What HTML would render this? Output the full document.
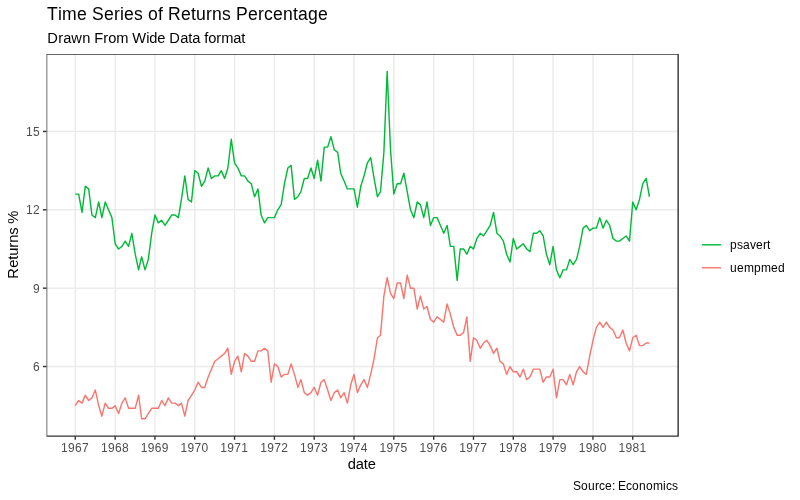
<!DOCTYPE html>
<html><head><meta charset="utf-8"><title>Time Series of Returns Percentage</title>
<style>
html,body{margin:0;padding:0;background:#fff;}
svg{display:block;font-family:"Liberation Sans",sans-serif;}
</style></head><body>
<svg width="800" height="500" viewBox="0 0 800 500">
<rect x="0" y="0" width="800" height="500" fill="#ffffff"/>
<rect x="46.55" y="54.0" width="631.6" height="382.15" fill="#ffffff"/>
<g stroke="#ebebeb" stroke-width="1.42" fill="none">
<line x1="46.55" x2="678.15" y1="366.54" y2="366.54"/>
<line x1="46.55" x2="678.15" y1="288.17" y2="288.17"/>
<line x1="46.55" x2="678.15" y1="209.81" y2="209.81"/>
<line x1="46.55" x2="678.15" y1="131.45" y2="131.45"/>
<line x1="75.26" x2="75.26" y1="54.00" y2="436.15"/>
<line x1="115.16" x2="115.16" y1="54.00" y2="436.15"/>
<line x1="154.95" x2="154.95" y1="54.00" y2="436.15"/>
<line x1="194.74" x2="194.74" y1="54.00" y2="436.15"/>
<line x1="234.53" x2="234.53" y1="54.00" y2="436.15"/>
<line x1="274.43" x2="274.43" y1="54.00" y2="436.15"/>
<line x1="314.22" x2="314.22" y1="54.00" y2="436.15"/>
<line x1="354.01" x2="354.01" y1="54.00" y2="436.15"/>
<line x1="393.80" x2="393.80" y1="54.00" y2="436.15"/>
<line x1="433.70" x2="433.70" y1="54.00" y2="436.15"/>
<line x1="473.49" x2="473.49" y1="54.00" y2="436.15"/>
<line x1="513.28" x2="513.28" y1="54.00" y2="436.15"/>
<line x1="553.07" x2="553.07" y1="54.00" y2="436.15"/>
<line x1="592.97" x2="592.97" y1="54.00" y2="436.15"/>
<line x1="632.76" x2="632.76" y1="54.00" y2="436.15"/>
</g>
<path d="M75.26,194.14 L78.64,194.14 L82.02,212.42 L85.29,186.30 L88.67,188.91 L91.94,215.04 L95.32,217.65 L98.70,201.98 L101.86,217.65 L105.24,201.98 L108.51,209.81 L111.89,217.65 L115.16,243.77 L118.54,248.99 L121.92,246.38 L125.19,241.16 L128.57,246.38 L131.84,233.32 L135.22,254.22 L138.60,269.89 L141.65,256.83 L145.03,269.89 L148.30,259.44 L151.68,233.32 L154.95,215.04 L158.33,222.87 L161.71,220.26 L164.98,225.48 L168.36,220.26 L171.63,215.04 L175.01,215.04 L178.39,217.65 L181.44,199.36 L184.82,175.85 L188.09,199.36 L191.47,201.98 L194.74,170.63 L198.12,173.24 L201.50,186.30 L204.77,181.08 L208.15,168.02 L211.42,178.47 L214.80,175.85 L218.18,175.85 L221.23,170.63 L224.61,178.47 L227.88,168.02 L231.26,139.29 L234.53,162.79 L237.91,168.02 L241.29,175.85 L244.56,175.85 L247.94,181.08 L251.21,183.69 L254.59,196.75 L257.97,188.91 L261.13,215.04 L264.51,222.87 L267.78,217.65 L271.16,217.65 L274.43,217.65 L277.81,209.81 L281.19,204.59 L284.46,183.69 L287.84,168.02 L291.11,165.41 L294.49,199.36 L297.87,196.75 L300.92,191.53 L304.30,178.47 L307.57,178.47 L310.95,168.02 L314.22,178.47 L317.60,160.18 L320.98,181.08 L324.25,147.12 L327.63,147.12 L330.90,136.67 L334.28,149.73 L337.66,152.35 L340.71,173.24 L344.09,181.08 L347.36,188.91 L350.74,188.91 L354.01,188.91 L357.39,207.20 L360.77,186.30 L364.04,175.85 L367.42,162.79 L370.69,157.57 L374.07,178.47 L377.45,196.75 L380.50,191.53 L383.88,152.35 L387.15,71.37 L390.53,149.73 L393.80,194.14 L397.18,183.69 L400.56,183.69 L403.83,173.24 L407.21,191.53 L410.48,209.81 L413.86,217.65 L417.24,201.98 L420.40,204.59 L423.78,217.65 L427.05,201.98 L430.43,225.48 L433.70,217.65 L437.08,217.65 L440.46,225.48 L443.73,233.32 L447.11,225.48 L450.38,246.38 L453.76,246.38 L457.14,280.34 L460.19,248.99 L463.57,248.99 L466.84,254.22 L470.22,246.38 L473.49,248.99 L476.87,238.54 L480.25,233.32 L483.52,235.93 L486.90,230.71 L490.17,225.48 L493.55,212.42 L496.93,233.32 L499.98,235.93 L503.36,241.16 L506.63,254.22 L510.01,262.05 L513.28,238.54 L516.66,248.99 L520.04,246.38 L523.31,243.77 L526.69,248.99 L529.96,251.61 L533.34,233.32 L536.72,233.32 L539.77,230.71 L543.15,235.93 L546.42,254.22 L549.80,264.67 L553.07,246.38 L556.45,269.89 L559.83,277.73 L563.10,269.89 L566.48,269.89 L569.75,259.44 L573.13,264.67 L576.51,259.44 L579.67,246.38 L583.05,228.10 L586.32,225.48 L589.70,230.71 L592.97,228.10 L596.35,228.10 L599.73,217.65 L603.00,228.10 L606.38,220.26 L609.65,225.48 L613.03,238.54 L616.41,241.16 L619.46,241.16 L622.84,238.54 L626.11,235.93 L629.49,241.16 L632.76,201.98 L636.14,209.81 L639.52,199.36 L642.79,183.69 L646.17,178.47 L649.44,196.75" fill="none" stroke="#00BA38" stroke-width="1.42" stroke-linejoin="round" stroke-linecap="butt"/>
<path d="M75.26,405.72 L78.64,400.49 L82.02,403.11 L85.29,395.27 L88.67,400.49 L91.94,397.88 L95.32,390.05 L98.70,405.72 L101.86,416.17 L105.24,403.11 L108.51,408.33 L111.89,408.33 L115.16,405.72 L118.54,413.56 L121.92,403.11 L125.19,397.88 L128.57,408.33 L131.84,408.33 L135.22,408.33 L138.60,395.27 L141.65,418.78 L145.03,418.78 L148.30,413.56 L151.68,408.33 L154.95,408.33 L158.33,408.33 L161.71,400.49 L164.98,405.72 L168.36,397.88 L171.63,403.11 L175.01,403.11 L178.39,405.72 L181.44,403.11 L184.82,416.17 L188.09,400.49 L191.47,395.27 L194.74,390.05 L198.12,382.21 L201.50,387.43 L204.77,387.43 L208.15,376.99 L211.42,369.15 L214.80,361.31 L218.18,358.70 L221.23,356.09 L224.61,353.48 L227.88,348.25 L231.26,374.37 L234.53,361.31 L237.91,356.09 L241.29,371.76 L244.56,353.48 L247.94,356.09 L251.21,361.31 L254.59,361.31 L257.97,350.86 L261.13,350.86 L264.51,348.25 L267.78,350.86 L271.16,382.21 L274.43,363.93 L277.81,366.54 L281.19,376.99 L284.46,374.37 L287.84,374.37 L291.11,363.93 L294.49,374.37 L297.87,387.43 L300.92,379.60 L304.30,392.66 L307.57,395.27 L310.95,392.66 L314.22,387.43 L317.60,395.27 L320.98,382.21 L324.25,379.60 L327.63,390.05 L330.90,400.49 L334.28,392.66 L337.66,390.05 L340.71,397.88 L344.09,392.66 L347.36,403.11 L350.74,384.82 L354.01,374.37 L357.39,392.66 L360.77,384.82 L364.04,379.60 L367.42,387.43 L370.69,374.37 L374.07,358.70 L377.45,337.80 L380.50,335.19 L383.88,296.01 L387.15,277.73 L390.53,293.40 L393.80,298.62 L397.18,282.95 L400.56,282.95 L403.83,298.62 L407.21,275.11 L410.48,288.17 L413.86,288.17 L417.24,309.07 L420.40,296.01 L423.78,309.07 L427.05,306.46 L430.43,319.52 L433.70,322.13 L437.08,316.91 L440.46,319.52 L443.73,322.13 L447.11,303.85 L450.38,314.30 L453.76,327.36 L457.14,335.19 L460.19,335.19 L463.57,332.58 L466.84,316.91 L470.22,361.31 L473.49,337.80 L476.87,340.42 L480.25,348.25 L483.52,343.03 L486.90,340.42 L490.17,345.64 L493.55,353.48 L496.93,348.25 L499.98,361.31 L503.36,363.93 L506.63,374.37 L510.01,366.54 L513.28,371.76 L516.66,371.76 L520.04,376.99 L523.31,369.15 L526.69,379.60 L529.96,376.99 L533.34,369.15 L536.72,369.15 L539.77,369.15 L543.15,382.21 L546.42,376.99 L549.80,376.99 L553.07,369.15 L556.45,397.88 L559.83,379.60 L563.10,379.60 L566.48,384.82 L569.75,374.37 L573.13,384.82 L576.51,371.76 L579.67,366.54 L583.05,371.76 L586.32,374.37 L589.70,356.09 L592.97,340.42 L596.35,327.36 L599.73,322.13 L603.00,327.36 L606.38,322.13 L609.65,327.36 L613.03,329.97 L616.41,337.80 L619.46,337.80 L622.84,329.97 L626.11,343.03 L629.49,350.86 L632.76,337.80 L636.14,335.19 L639.52,345.64 L642.79,345.64 L646.17,343.03 L649.44,343.03" fill="none" stroke="#F8766D" stroke-width="1.42" stroke-linejoin="round" stroke-linecap="butt"/>
<clipPath id="pc"><rect x="46.55" y="54.0" width="700" height="400"/></clipPath>
<rect x="46.55" y="54.0" width="631.6" height="382.15" fill="none" stroke="#333333" stroke-width="1.42" stroke-linejoin="round" clip-path="url(#pc)"/>
<g stroke="#333333" stroke-width="1.42" fill="none">
<line x1="42.88" x2="46.55" y1="366.54" y2="366.54"/>
<line x1="42.88" x2="46.55" y1="288.17" y2="288.17"/>
<line x1="42.88" x2="46.55" y1="209.81" y2="209.81"/>
<line x1="42.88" x2="46.55" y1="131.45" y2="131.45"/>
<line x1="75.26" x2="75.26" y1="436.15" y2="439.82"/>
<line x1="115.16" x2="115.16" y1="436.15" y2="439.82"/>
<line x1="154.95" x2="154.95" y1="436.15" y2="439.82"/>
<line x1="194.74" x2="194.74" y1="436.15" y2="439.82"/>
<line x1="234.53" x2="234.53" y1="436.15" y2="439.82"/>
<line x1="274.43" x2="274.43" y1="436.15" y2="439.82"/>
<line x1="314.22" x2="314.22" y1="436.15" y2="439.82"/>
<line x1="354.01" x2="354.01" y1="436.15" y2="439.82"/>
<line x1="393.80" x2="393.80" y1="436.15" y2="439.82"/>
<line x1="433.70" x2="433.70" y1="436.15" y2="439.82"/>
<line x1="473.49" x2="473.49" y1="436.15" y2="439.82"/>
<line x1="513.28" x2="513.28" y1="436.15" y2="439.82"/>
<line x1="553.07" x2="553.07" y1="436.15" y2="439.82"/>
<line x1="592.97" x2="592.97" y1="436.15" y2="439.82"/>
<line x1="632.76" x2="632.76" y1="436.15" y2="439.82"/>
</g>
<g font-size="11.73px" fill="#4d4d4d">
<text x="32.90" y="370.90" font-size="12px" fill="#4d4d4d">6</text>
<text x="32.90" y="292.90" font-size="12px" fill="#4d4d4d">9</text>
<text x="25.90 32.90" y="213.90" font-size="12px" fill="#4d4d4d">12</text>
<text x="25.90 32.90" y="135.90" font-size="12px" fill="#4d4d4d">15</text>
<text x="61.01 68.01 75.01 82.01" y="451.80" font-size="12px" fill="#4d4d4d">1967</text>
<text x="100.91 107.91 114.91 121.91" y="451.80" font-size="12px" fill="#4d4d4d">1968</text>
<text x="140.70 147.70 154.70 161.70" y="451.80" font-size="12px" fill="#4d4d4d">1969</text>
<text x="180.49 187.49 194.49 201.49" y="451.80" font-size="12px" fill="#4d4d4d">1970</text>
<text x="220.28 227.28 234.28 241.28" y="451.80" font-size="12px" fill="#4d4d4d">1971</text>
<text x="260.18 267.18 274.18 281.18" y="451.80" font-size="12px" fill="#4d4d4d">1972</text>
<text x="299.97 306.97 313.97 320.97" y="451.80" font-size="12px" fill="#4d4d4d">1973</text>
<text x="339.76 346.76 353.76 360.76" y="451.80" font-size="12px" fill="#4d4d4d">1974</text>
<text x="379.55 386.55 393.55 400.55" y="451.80" font-size="12px" fill="#4d4d4d">1975</text>
<text x="419.45 426.45 433.45 440.45" y="451.80" font-size="12px" fill="#4d4d4d">1976</text>
<text x="459.24 466.24 473.24 480.24" y="451.80" font-size="12px" fill="#4d4d4d">1977</text>
<text x="499.03 506.03 513.03 520.03" y="451.80" font-size="12px" fill="#4d4d4d">1978</text>
<text x="538.82 545.82 552.82 559.82" y="451.80" font-size="12px" fill="#4d4d4d">1979</text>
<text x="578.72 585.72 592.72 599.72" y="451.80" font-size="12px" fill="#4d4d4d">1980</text>
<text x="618.51 625.51 632.51 639.51" y="451.80" font-size="12px" fill="#4d4d4d">1981</text>
</g>
<text x="46.95 57.95 61.95 76.95 86.95 91.95 103.95 113.95 119.95 123.95 133.95 142.95 147.95 157.95 162.95 167.95 180.95 190.95 195.95 205.95 211.95 221.95 230.95 235.95 247.95 257.95 263.95 272.95 282.95 292.95 297.95 307.95 317.95" y="20.30" font-size="17.6px" fill="#000">Time Series of Returns Percentage</text>
<text x="47.30 58.30 63.30 71.30 82.30 90.30 94.30 103.30 108.30 116.30 128.30 132.30 146.30 149.30 157.30 165.30 169.30 180.30 188.30 192.30 200.30 204.30 208.30 216.30 221.30 233.30 241.30" y="42.60" font-size="14.67px" fill="#000">Drawn From Wide Data format</text>
<text x="347.70 355.70 363.70 367.70" y="469.30" font-size="14.67px" fill="#000">date</text>
<text transform="translate(18.20,244.80) rotate(-90)" x="-34.00 -23.00 -15.00 -11.00 -3.00 2.00 10.00 17.00 21.00" y="0" font-size="14.67px" fill="#000">Returns %</text>
<text x="573.10 581.10 588.10 595.10 599.10 605.10 612.10 615.10 618.10 626.10 632.10 639.10 646.10 653.10 663.10 666.10 672.10" y="489.50" font-size="12px" fill="#000">Source: Economics</text>
<line x1="702" x2="721" y1="244.8" y2="244.8" stroke="#00BA38" stroke-width="1.42"/>
<line x1="702" x2="721" y1="267.78" y2="267.78" stroke="#F8766D" stroke-width="1.42"/>
<g font-size="11.73px" fill="#000">
<text x="729.90 736.90 742.90 749.90 755.90 762.90 766.90" y="248.70" font-size="12px" fill="#000">psavert</text>
<text x="729.90 736.90 743.90 753.90 760.90 770.90 777.90" y="271.75" font-size="12px" fill="#000">uempmed</text>
</g>
</svg>
</body></html>
